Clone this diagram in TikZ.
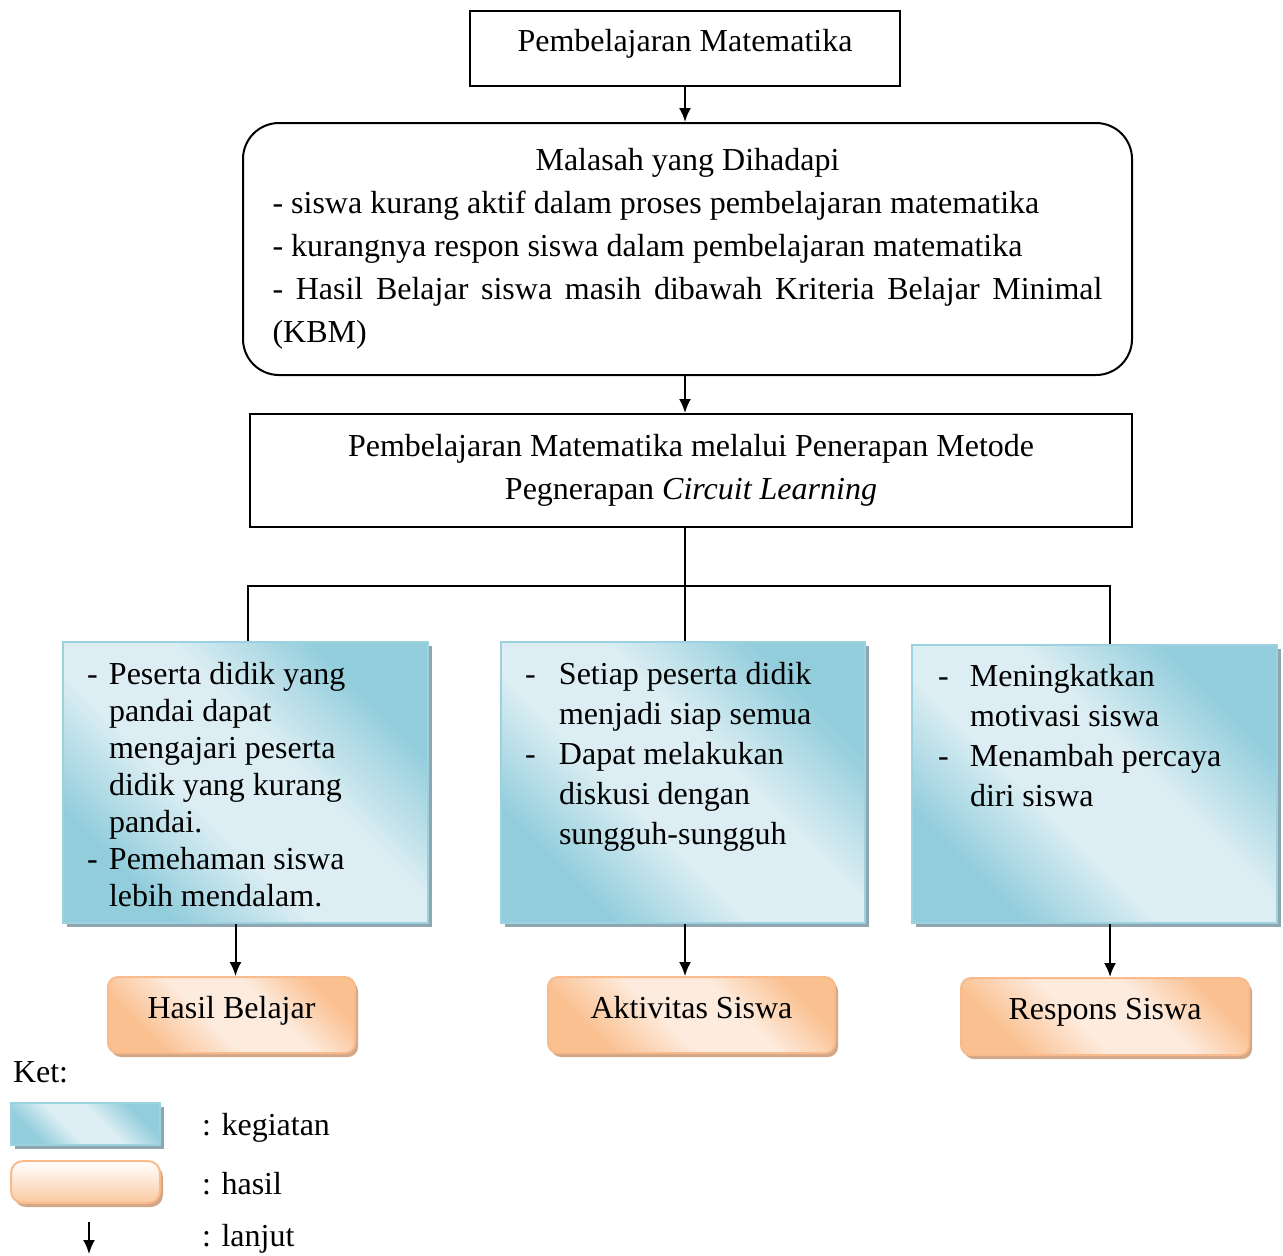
\documentclass[tikz,border=0pt]{standalone}
\usepackage{fontspec}
\setmainfont{Liberation Serif}
\usepackage{tikz}
\usetikzlibrary{shadows,arrows.meta,positioning}

\definecolor{kegdark}{HTML}{92CDDC}
\definecolor{keglight}{HTML}{DCEEF3}
\definecolor{kegline}{HTML}{9CD2E0}
\definecolor{kegshadow}{HTML}{8FA6B0}
\definecolor{hasdark}{HTML}{FAC090}
\definecolor{haslight}{HTML}{FDEBDD}
\definecolor{hasline}{HTML}{F9BB8C}
\definecolor{hasshadow}{HTML}{D2A78A}

\pgfdeclarehorizontalshading{kegshade}{100bp}{color(0bp)=(kegdark); color(27bp)=(kegdark); color(42bp)=(keglight); color(57bp)=(keglight); color(73bp)=(kegdark); color(100bp)=(kegdark)}
\pgfdeclarehorizontalshading{hasshade}{100bp}{color(0bp)=(hasdark); color(27bp)=(hasdark); color(44bp)=(haslight); color(60bp)=(haslight); color(75bp)=(hasdark); color(100bp)=(hasdark)}

\tikzset{
  plainbox/.style={draw, line width=1pt, inner sep=0pt},
  problembox/.style={draw, line width=1pt, rounded corners=18pt},
  kegiatan/.style={draw=kegline, line width=1pt, shading=kegshade, shading angle=45,
    drop shadow={shadow xshift=2pt, shadow yshift=-2pt, fill=kegshadow, opacity=1}},
  hasil/.style={draw=hasline, line width=1pt, rounded corners=5pt, shading=hasshade, shading angle=45,
    drop shadow={shadow xshift=1.5pt, shadow yshift=-2pt, fill=hasshadow, opacity=1}},
  poin/.style={anchor=north west, inner sep=0pt},
  >={Latex[length=7pt,width=6pt]}
}

\begin{document}
\begin{tikzpicture}[x=0.5pt, y=-0.5pt, font=\fontsize{16}{21.5}\selectfont, line width=1pt]
    \useasboundingbox (0,0) rectangle (1283,1255);

    % Top of the scheme
    \node[plainbox, minimum width=215pt, minimum height=37.5pt, text depth=8.5pt] (topic) at (685,48.5) {Pembelajaran Matematika};

    \node[problembox, minimum width=444.5pt, minimum height=126pt, text width=415pt, inner xsep=14.75pt, align=justify] (masalah) at (687.5,249)
      {\hfill Malasah yang Dihadapi\hfill\null\newline
       - siswa kurang aktif dalam proses pembelajaran matematika\newline
       - kurangnya respon siswa dalam pembelajaran matematika\newline
       - Hasil Belajar siswa masih dibawah Kriteria Belajar Minimal\linebreak (KBM)};

    \node[plainbox, minimum width=441pt, minimum height=56.5pt, align=center] (metode) at (691,470.5)
      {Pembelajaran Matematika melalui Penerapan Metode\\ Pegnerapan \textit{Circuit Learning}};

    \draw[->] (topic.south) -- (topic.south |- masalah.north);
    \draw[->] (topic.south |- masalah.south) -- (topic.south |- metode.north);

    % Activity boxes
    \node[kegiatan, minimum width=182.5pt, minimum height=140.5pt] (kegL) at (245.5,782.5) {};
    \node[kegiatan, minimum width=182pt, minimum height=140.5pt] (kegM) at (683,782.5) {};
    \node[kegiatan, minimum width=182.5pt, minimum height=139pt] (kegR) at (1094.5,784) {};

    \node[poin, font=\fontsize{16}{18.5}\selectfont] (teksL) at (86,658) {%
      \begin{tabular}{@{}p{11pt}@{}l@{}}
        - & Peserta didik yang\\ & pandai dapat\\ & mengajari peserta\\ & didik yang kurang\\ & pandai.\\
        - & Pemehaman siswa\\ & lebih mendalam.
      \end{tabular}};
    \node[poin, font=\fontsize{16}{20}\selectfont] (teksM) at (524,655) {%
      \begin{tabular}{@{}p{17pt}@{}l@{}}
        - & Setiap peserta didik\\ & menjadi siap semua\\
        - & Dapat melakukan\\ & diskusi dengan\\ & sungguh-sungguh
      \end{tabular}};
    \node[poin, font=\fontsize{16}{20}\selectfont] (teksR) at (937,657) {%
      \begin{tabular}{@{}p{16pt}@{}l@{}}
        - & Meningkatkan\\ & motivasi siswa\\
        - & Menambah percaya\\ & diri siswa
      \end{tabular}};

    % Branches
    \coordinate (busL) at (248,586);
    \coordinate (busM) at (685,586);
    \coordinate (busR) at (1110,586);
    \draw (metode.south -| busM) -- (busM |- kegM.north);
    \draw (busL |- kegL.north) -- (busL) -- (busR) -- (busR |- kegR.north);

    % Result boxes
    \node[hasil, minimum width=123.5pt, minimum height=38pt, text depth=7.5pt] (hasilL) at (231.5,1015) {Hasil Belajar};
    \node[hasil, minimum width=143.5pt, minimum height=38pt, text depth=7.5pt] (aktifM) at (691.5,1015) {Aktivitas Siswa};
    \node[hasil, minimum width=144pt, minimum height=38.5pt, text depth=7.5pt] (responsR) at (1105,1016.5) {Respons Siswa};

    \draw[->] ([xshift=2pt]kegL.south -| hasilL.north) -- ([xshift=2pt]hasilL.north);
    \draw[->] (kegM.south -| busM) -- (busM |- aktifM.north);
    \draw[->] (kegR.south -| busR) -- (busR |- responsR.north);

    % Legend
    \node[anchor=west, inner sep=0pt] (ket) at (12,1072) {Ket:};
    \node[kegiatan, minimum width=74.5pt, minimum height=21pt] (ketKeg) at (85.5,1124) {};
    \node[draw=hasline, line width=1pt, rounded corners=6pt, top color=white, bottom color=hasdark!85,
      drop shadow={shadow xshift=1.5pt, shadow yshift=-2pt, fill=hasshadow, opacity=1},
      minimum width=74.5pt, minimum height=21pt] (ketHas) at (85.5,1182) {};
    \coordinate (lanjutA) at (89,1222);
    \coordinate (lanjutB) at (89,1254);
    \draw[->] (lanjutA) -- (lanjutB);
    \node[anchor=west, inner sep=0pt] (ketKegT) at (201,1128) {: kegiatan};
    \node[anchor=west, inner sep=0pt] (ketHasT) at (201,1184) {: hasil};
    \node[anchor=west, inner sep=0pt] (ketLanT) at (201,1239) {: lanjut};
\end{tikzpicture}
\end{document}
